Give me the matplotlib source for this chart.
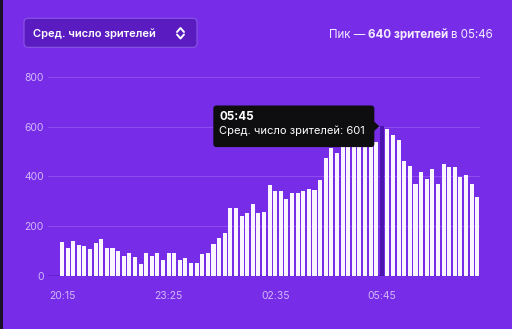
import matplotlib.pyplot as plt
import numpy as np
from matplotlib.patches import FancyBboxPatch, Rectangle, Polygon
from matplotlib.transforms import IdentityTransform

# средние зрители по 10-минутным интервалам, начиная с 20:15
start_time = '20:15'
step_min = 10
viewers = [138, 111, 140, 124, 122, 110, 133, 149, 114, 112,
           102, 79, 92, 76, 50, 92, 82, 93, 65, 94,
           91, 64, 71, 51, 52, 88, 91, 128, 151, 171,
           274, 274, 242, 254, 288, 252, 258, 365, 341, 341,
           310, 335, 335, 343, 348, 345, 386, 475, 515, 493,
           540, 555, 560, 575, 580, 570, 539, 601, 590, 566,
           545, 463, 440, 371, 418, 390, 430, 371, 450, 436,
           436, 396, 406, 371, 317]
tick_labels = ['20:15', '23:25', '02:35', '05:45']
y_ticks = [0, 200, 400, 600, 800]
hover_time = '05:45'
metric = 'Сред. число зрителей'
peak_viewers = 640
peak_time = '05:46'

BG = '#772ce8'
FONT = ['Inter', 'DejaVu Sans']
PX = IdentityTransform()
H = 329


def to_idx(t):
    h0, m0 = map(int, start_time.split(':'))
    h, m = map(int, t.split(':'))
    d = (h * 60 + m) - (h0 * 60 + m0)
    if d < 0:
        d += 24 * 60
    return d // step_min


plt.rcParams['font.family'] = FONT
fig = plt.figure(figsize=(5.12, 3.29), dpi=100, facecolor=BG)
ax = fig.add_axes([48 / 512, 53 / H, 432 / 512, 805 * 0.2491 / H])
ax.set_facecolor(BG)

x = np.arange(len(viewers))
hi = to_idx(hover_time)
colors = ['#fbf5ff'] * len(viewers)
colors[hi] = '#4c14ae'
ax.bar(x, viewers, width=0.72, color=colors, lw=0, zorder=3)
ax.axhline(0, color='#5e1fc6', lw=1.2, zorder=2)

ax.set_xlim(-2.5, 74.5)
ax.set_ylim(0, 805)
ax.set_yticks(y_ticks)
ax.set_xticks([to_idx(t) for t in tick_labels])
ax.set_xticklabels(tick_labels)
ax.yaxis.grid(True, color='#8c4cf0', lw=0.8)
ax.set_axisbelow(True)
for s in ax.spines.values():
    s.set_visible(False)
ax.tick_params(axis='both', length=0, labelsize=7.5, labelcolor='#d2b8fa')
ax.tick_params(axis='y', pad=3)
ax.tick_params(axis='x', pad=11)

# тёмная полоска по левому краю
fig.add_artist(Rectangle((0, 0), 2.5, H, transform=PX, fc='#1c1228', lw=0))

# выпадающий список
fig.add_artist(FancyBboxPatch((24, H - 47.3), 173, 29, boxstyle='round,pad=0,rounding_size=4',
                              transform=PX, fc='#5a1bc0', ec='#8a56e6', lw=0.8))
fig.text(33, H - 34, metric, transform=PX, color='white', fontsize=8.0,
         fontweight='semibold', va='center', ha='left')
fig.add_artist(plt.Line2D([177, 180.5, 184], [H - 32, H - 28, H - 32], transform=PX,
                          color='white', lw=1.4, solid_capstyle='round'))
fig.add_artist(plt.Line2D([177, 180.5, 184], [H - 34.5, H - 38.5, H - 34.5], transform=PX,
                          color='white', lw=1.4, solid_capstyle='round'))

# подпись пика справа
r = fig.canvas.get_renderer()
parts = [('в ' + peak_time, 'normal'), (f'{peak_viewers} зрителей ', 'bold'), ('Пик — ', 'normal')]
right = 493
for s, w in parts:
    t = fig.text(right, H - 38, s, transform=PX, color='#f3ecff', fontsize=8.3,
                 fontweight=w, ha='right', va='baseline')
    right -= t.get_window_extent(r).width

# подсказка над выбранным столбцом
bx, by = ax.transData.transform((hi, viewers[hi]))
tw, th = 161, 41.6
tx0 = bx - 7.5 - tw
ty0 = by - th / 2
fig.add_artist(FancyBboxPatch((tx0, ty0), tw, th, boxstyle='round,pad=0,rounding_size=3',
                              transform=PX, fc='#0e0e10', lw=0))
fig.add_artist(Polygon([[tx0 + tw - 0.5, by + 5], [tx0 + tw - 0.5, by - 5], [tx0 + tw + 5, by]],
                       closed=True, transform=PX, fc='#0e0e10', lw=0))
fig.text(tx0 + 6, ty0 + th - 14.3, hover_time, transform=PX, color='white', fontsize=8.4,
         fontweight='bold', va='baseline')
fig.text(tx0 + 6, ty0 + th - 28.5, f'{metric}: {viewers[hi]}', transform=PX, color='white',
         fontsize=8.0, va='baseline')

fig.savefig('out.png', dpi=100, facecolor=BG)
